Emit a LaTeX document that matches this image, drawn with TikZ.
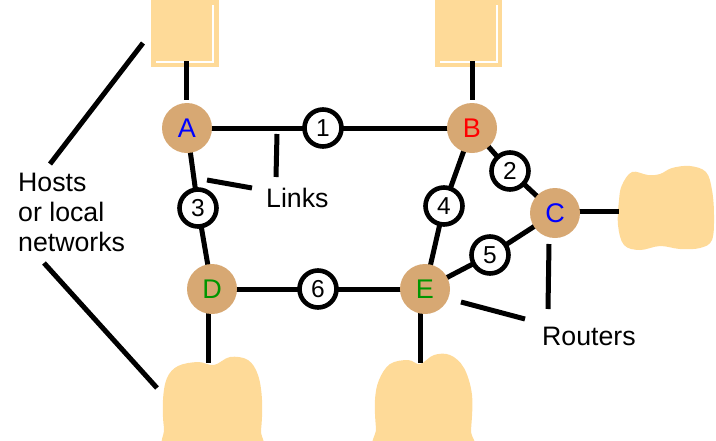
\documentclass[tikz,border=0pt]{standalone}
\usepackage{fontspec}
\setmainfont{Liberation Sans}
\definecolor{hostfill}{RGB}{254,218,152}
\definecolor{routerfill}{RGB}{215,168,115}
\definecolor{dgreen}{RGB}{0,150,0}
\begin{document}
\begin{tikzpicture}[x=1pt,y=-1pt,
  conn/.style={line width=5pt},
  host/.style={fill=hostfill, draw=none},
  router/.style={circle, fill=routerfill, minimum size=50pt, inner sep=0pt, font=\fontsize{27}{30}\selectfont},
  linkc/.style={circle, draw, line width=4.6pt, fill=white, minimum size=37pt, inner sep=0pt, font=\fontsize{24.5}{28}\selectfont},
  lbl/.style={inner sep=0pt, font=\fontsize{26.7}{30}\selectfont}]
\useasboundingbox (0,0) rectangle (716,440);
\clip (0,0) rectangle (716,440);

% hosts
\path[host] (151,0) rectangle (219,67);
\path[host] (435,0) rectangle (502,67);
\draw[white, line width=1.2pt] (213,5) -- (213,62) -- (156,62);
\draw[white, line width=1.2pt] (497,5) -- (497,62) -- (440,62);
\path[host] plot[smooth cycle, tension=0.6] coordinates {(622,185) (632,172) (648,175) (660,174) (672,168) (690,166) (706,172) (712,190) (714,215) (712,240) (700,248) (680,249) (660,246) (640,250) (624,245) (618,225) (619,200)};
\path[host] plot[smooth cycle, tension=0.6] coordinates {(167,378) (178,366) (198,362) (214,365) (230,357) (248,360) (258,375) (262,400) (261,430) (256,450) (170,450) (164,428) (163,400)};
\path[host] plot[smooth cycle, tension=0.6] coordinates {(379,380) (390,364) (408,360) (420,364) (434,355) (450,355) (464,368) (472,395) (471,430) (468,450) (380,450) (376,428) (375,400)};

\coordinate (hA) at (186,61);
\coordinate (hB) at (472,61);
\coordinate (hC) at (619,211);
\coordinate (hD) at (208,363);
\coordinate (hE) at (420,363);

% node positions
\path (187,128) coordinate (pA) (472,128) coordinate (pB) (555,213) coordinate (pC)
      (212,289) coordinate (pD) (425,289) coordinate (pE);

% connectors
\draw[conn] (pA) -- (323,128) coordinate (p1) -- (pB);
\draw[conn] (pA) -- (198,208) coordinate (p3) -- (pD);
\draw[conn] (pB) -- (444,206) coordinate (p4) -- (pE);
\draw[conn] (pB) -- (510,171) coordinate (p2) -- (pC);
\draw[conn] (pE) -- (490,255) coordinate (p5) -- (pC);
\draw[conn] (pD) -- (318,289) coordinate (p6) -- (pE);
\draw[conn] (hA) -- (186,100);
\draw[conn] (hB) -- (472,100);
\draw[conn] (pC |- hC) -- (hC);
\draw[conn] (208,300) -- (hD);
\draw[conn] (420,300) -- (hE);

% routers
\node[router, text=blue] (A) at (pA) {A};
\node[router, text=red] (B) at (pB) {B};
\node[router, text=blue] (C) at (pC) {C};
\node[router, text=dgreen] (D) at (pD) {D};
\node[router, text=dgreen] (E) at (pE) {E};

% link circles
\node[linkc] (l1) at (p1) {1};
\node[linkc] (l2) at (p2) {2};
\node[linkc] (l3) at (p3) {3};
\node[linkc] (l4) at (p4) {4};
\node[linkc] (l5) at (p5) {5};
\node[linkc] (l6) at (p6) {6};

% labels
\node[lbl, align=left, anchor=north west] (hosts) at (18,173) {Hosts\\or local\\networks};
\node[lbl, anchor=base west] (links) at (266,207) {Links};
\node[lbl, anchor=base west] (routers) at (542,345) {Routers};

% pointer lines
\coordinate (ht1) at (50,164); \coordinate (ht2) at (143,43);
\coordinate (hb1) at (44,263); \coordinate (hb2) at (157,388);
\draw[conn] (ht1) -- (ht2);
\draw[conn] (hb1) -- (hb2);
\coordinate (lk1) at (277,134); \coordinate (lk2) at (276,177);
\coordinate (lk3) at (207,180); \coordinate (lk4) at (252,188);
\draw[conn] (lk1) -- (lk2);
\draw[conn] (lk3) -- (lk4);
\coordinate (rt1) at (549,244); \coordinate (rt2) at (548,309);
\coordinate (rt3) at (461,302); \coordinate (rt4) at (525,319);
\draw[conn] (rt1) -- (rt2);
\draw[conn] (rt3) -- (rt4);
\end{tikzpicture}
\end{document}
